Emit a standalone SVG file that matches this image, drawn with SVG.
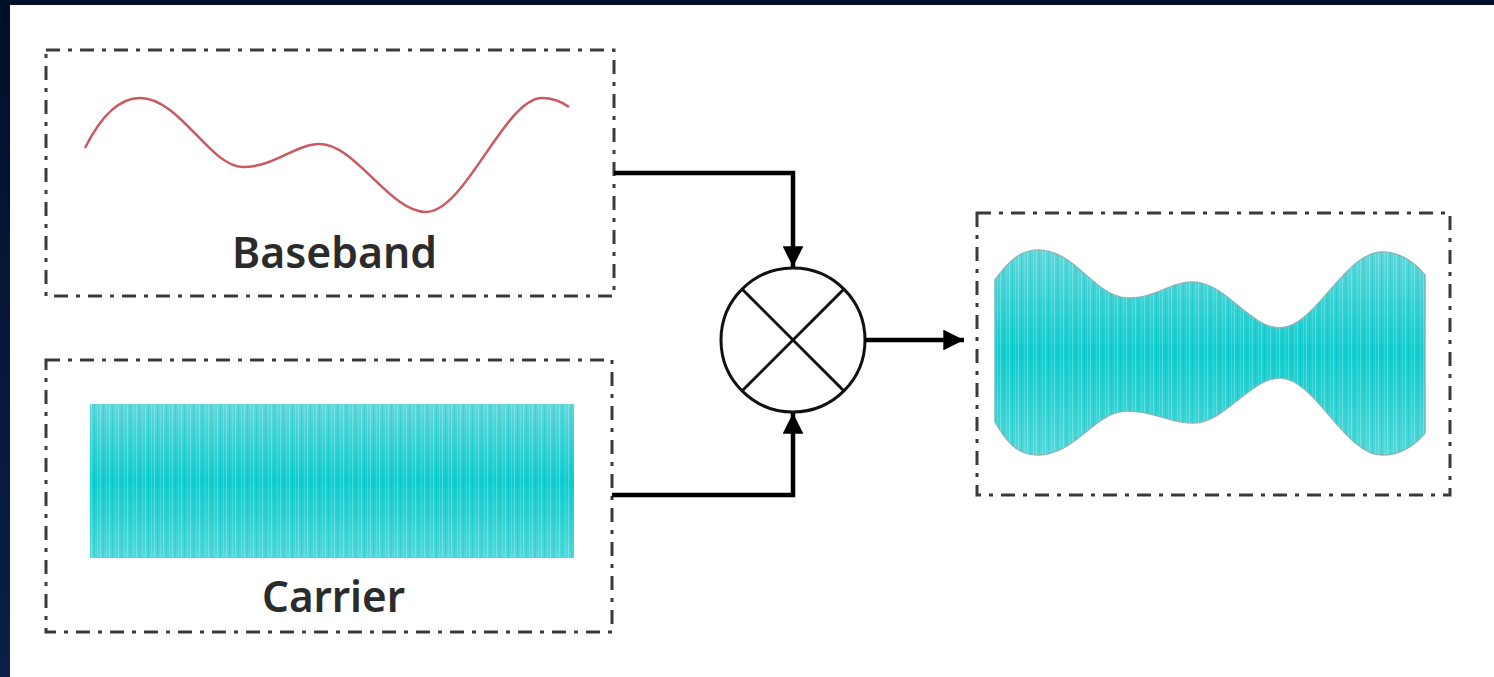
<svg xmlns="http://www.w3.org/2000/svg" width="1494" height="677" viewBox="0 0 1494 677">
  <defs>
    <style>
      .frame { fill: none; stroke: #3a3a3a; stroke-width: 3; stroke-dasharray: 14 8 4 8; }
      .label { font-family: "Noto Sans", "Open Sans", "Liberation Sans", sans-serif; font-size: 44px; font-weight: 600; fill: #2b2b2b; text-anchor: middle; }
      .conn { fill: none; stroke: #000; stroke-width: 4.5; }
      .mix { fill: #fff; stroke: #111; stroke-width: 3; }
      .mixline { stroke: #111; stroke-width: 3; }
    </style>
    <linearGradient id="edge" x1="0" y1="0" x2="0" y2="1">
      <stop offset="0" stop-color="#00102a"/>
      <stop offset="1" stop-color="#0b1f48"/>
    </linearGradient>
    <linearGradient id="teal" x1="0" y1="0" x2="0" y2="1">
      <stop offset="0" stop-color="#5fd8dc"/>
      <stop offset="0.5" stop-color="#0fcdcf"/>
      <stop offset="1" stop-color="#52d8da"/>
    </linearGradient>
    <pattern id="stripes" width="9" height="10" patternUnits="userSpaceOnUse">
      <rect x="1" y="0" width="1" height="10" fill="#ffffff" opacity="0.25"/>
      <rect x="4" y="0" width="1" height="10" fill="#0a9fa3" opacity="0.18"/>
      <rect x="7" y="0" width="1" height="10" fill="#ffffff" opacity="0.15"/>
    </pattern>
    <marker id="arrow" viewBox="0 0 10 10" refX="10" refY="5" markerWidth="4.6" markerHeight="4.6" markerUnits="strokeWidth" orient="auto">
      <path d="M0,0 L10,5 L0,10 Z" fill="#000"/>
    </marker>
  </defs>

  <rect x="0" y="0" width="1494" height="677" fill="#ffffff"/>
  <rect x="0" y="0" width="1494" height="5" fill="#00102a"/>
  <rect x="0" y="0" width="10" height="677" fill="url(#edge)"/>

  <g id="baseband">
    <rect class="frame" x="46" y="50" width="568" height="246"/>
    <path d="M85,148 C100,118 118,98 140,98 C180,98 210,167 243,167 C275,167 295,144 320,144 C355,144 390,212 426,212 C465,212 505,98 542,98 C553,98 562,102 569,107" fill="none" stroke="#c95a60" stroke-width="2.5"/>
    <text class="label" x="334.5" y="268" textLength="205" lengthAdjust="spacingAndGlyphs">Baseband</text>
  </g>

  <g id="carrier">
    <rect class="frame" x="46" y="360" width="566" height="272"/>
    <rect x="90" y="404" width="484" height="154" fill="url(#teal)"/>
    <rect x="90" y="404" width="484" height="154" fill="url(#stripes)"/>
    <text class="label" x="333.5" y="612" textLength="143" lengthAdjust="spacingAndGlyphs">Carrier</text>
  </g>

  <g id="mixer">
    <circle class="mix" cx="793" cy="340" r="72"/>
    <line class="mixline" x1="742" y1="289" x2="844" y2="391"/>
    <line class="mixline" x1="844" y1="289" x2="742" y2="391"/>
  </g>

  <g id="output">
    <rect class="frame" x="977" y="213" width="473" height="282"/>
    <path id="env" d="M995,280 C1008,262 1020,250 1038,250 C1075,250 1095,297 1127,298 C1155,299 1170,282 1193,282 C1225,282 1250,328 1280,328 C1315,328 1345,252 1382,252 C1400,252 1415,263 1425,275 L1425,433 C1415,445 1400,455 1382,455 C1345,455 1315,378 1280,378 C1250,378 1225,423 1193,423 C1170,423 1155,411 1127,411 C1095,411 1075,455 1038,455 C1020,455 1008,445 995,422 Z" fill="url(#teal)" stroke="#7fb8ba" stroke-width="1.5"/>
    <path d="M995,280 C1008,262 1020,250 1038,250 C1075,250 1095,297 1127,298 C1155,299 1170,282 1193,282 C1225,282 1250,328 1280,328 C1315,328 1345,252 1382,252 C1400,252 1415,263 1425,275 L1425,433 C1415,445 1400,455 1382,455 C1345,455 1315,378 1280,378 C1250,378 1225,423 1193,423 C1170,423 1155,411 1127,411 C1095,411 1075,455 1038,455 C1020,455 1008,445 995,422 Z" fill="url(#stripes)"/>
  </g>

  <g id="connectors">
    <path class="conn" d="M614,173 L793,173 L793,267" marker-end="url(#arrow)"/>
    <path class="conn" d="M612,495 L793,495 L793,413" marker-end="url(#arrow)"/>
    <path class="conn" d="M865,340 L964,340" marker-end="url(#arrow)"/>
  </g>
</svg>
